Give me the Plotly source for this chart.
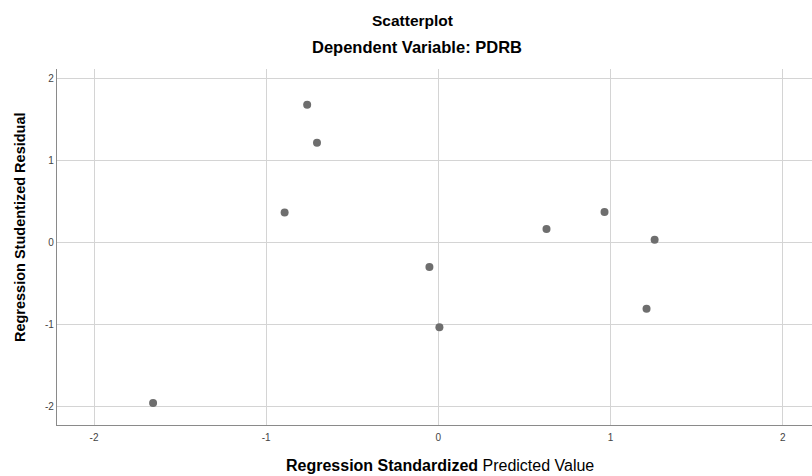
import plotly.graph_objects as go

# Data
pred = [-1.657, -0.893, -0.762, -0.705, -0.052, 0.006, 0.628, 0.965, 1.256, 1.209]
resid = [-1.963, 0.362, 1.674, 1.211, -0.305, -1.037, 0.159, 0.366, 0.027, -0.813]
tick_vals = [-2, -1, 0, 1, 2]
tick_text = ["-2", "-1", "0", "1", "2"]

fig = go.Figure()
fig.add_trace(go.Scatter(
    x=pred, y=resid, mode="markers",
    marker=dict(color="#6e6e6e", size=8, line=dict(width=0)),
    hoverinfo="x+y", showlegend=False,
))

font_fam = "Liberation Sans, Arial, sans-serif"
axis_common = dict(
    tickvals=tick_vals, ticktext=tick_text,
    showgrid=True, gridcolor="#d4d4d4", gridwidth=1.3,
    zeroline=False, showline=True, linecolor="#8a8a8a", linewidth=1.2,
    ticks="", tickfont=dict(size=10, color="#444"), automargin=False,
)
fig.update_layout(
    width=812, height=476,
    margin=dict(l=57, r=0, t=69, b=51),
    paper_bgcolor="white", plot_bgcolor="white",
    font=dict(family=font_fam, color="#000"),
    xaxis=dict(range=[-2.215, 2.17], ticklabelstandoff=3, **axis_common),
    yaxis=dict(range=[-2.23, 2.11], **axis_common),
    annotations=[
        dict(text="<b>Scatterplot</b>", xref="paper", yref="paper",
             x=0.4715, y=1.1376, showarrow=False, font=dict(size=15.5, color="#000"),
             xanchor="center", yanchor="middle"),
        dict(text="<b>Dependent Variable: PDRB</b>", xref="paper", yref="paper",
             x=0.4768, y=1.0618, showarrow=False, font=dict(size=16.5, color="#000"),
             xanchor="center", yanchor="middle"),
        dict(text="<b>Regression Standardized</b> Predicted Value", xref="paper", yref="paper",
             x=0.5073, y=-0.1124, showarrow=False, font=dict(size=16, color="#000"),
             xanchor="center", yanchor="middle"),
        dict(text="<b>Regression Studentized Residual</b>", xref="paper", yref="paper",
             x=-0.049, y=0.556, showarrow=False, font=dict(size=14.5, color="#000"),
             xanchor="center", yanchor="middle", textangle=-90),
    ],
)

fig.write_html("out.html", config={"displayModeBar": False},
               post_script="document.body.style.margin='0';")
